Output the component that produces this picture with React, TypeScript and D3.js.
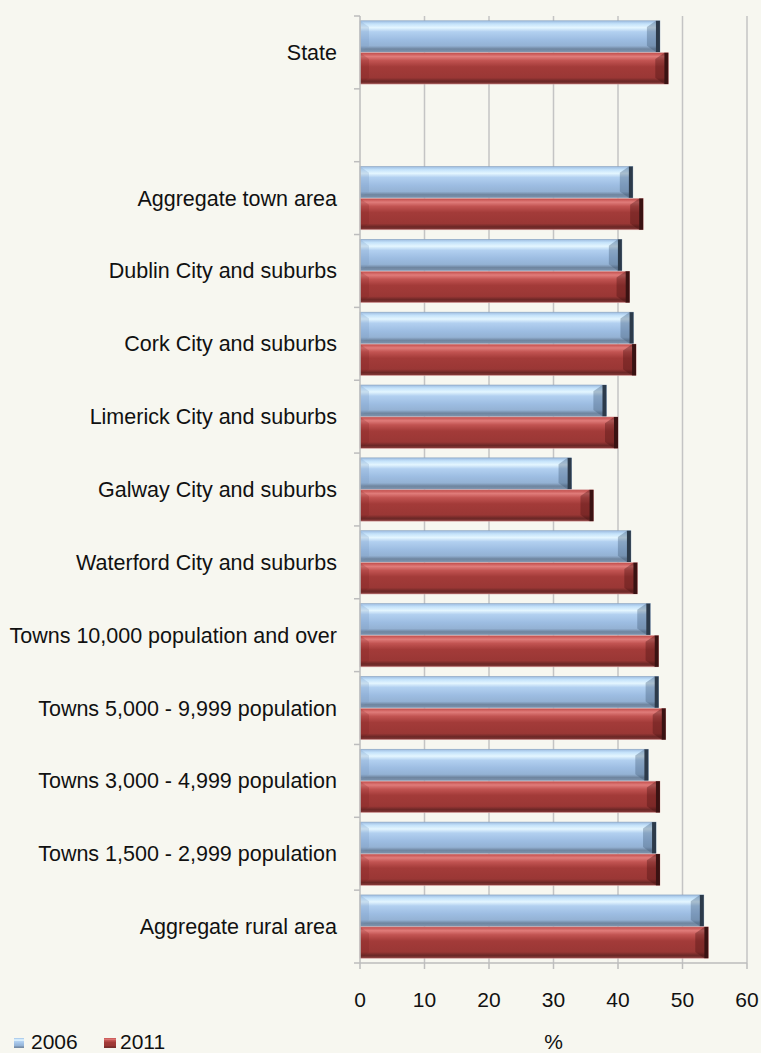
import React from "react";
import * as d3 from "d3";

const categories = [
  "State",
  " ",
  "Aggregate town area",
  "Dublin City and suburbs",
  "Cork City and suburbs",
  "Limerick City and suburbs",
  "Galway City and suburbs",
  "Waterford City and suburbs",
  "Towns 10,000 population and over",
  "Towns 5,000 - 9,999 population",
  "Towns 3,000 - 4,999 population",
  "Towns 1,500 - 2,999 population",
  "Aggregate rural area",
];
const values2006: (number | null)[] = [46.5, null, 42.3, 40.6, 42.4, 38.2, 32.8, 42.0, 45.0, 46.3, 44.7, 45.9, 53.3];
const values2011: (number | null)[] = [47.8, null, 43.9, 41.8, 42.8, 40.0, 36.2, 43.0, 46.3, 47.4, 46.5, 46.5, 54.0];
const seriesNames = ["2006", "2011"];
const xTicks = [0, 10, 20, 30, 40, 50, 60];

const W = 761;
const H = 1053;
const M = { left: 360, right: 747, top: 16, bottom: 963 };
const FONT = "'Liberation Sans', Arial, sans-serif";

const x = d3.scaleLinear().domain([0, 60]).range([M.left, M.right]);
const y = d3.scaleBand<string>().domain(categories).range([M.top, M.bottom]).paddingInner(0).paddingOuter(0);
const sub = d3.scaleBand<string>().domain(seriesNames).range([0, y.bandwidth()]).paddingInner(0.02).paddingOuter(0.15);

const palette: Record<string, { grad: string; cap: string; bevelL: string; bevelR: string; stroke: string }> = {
  "2006": { grad: "gBlue", cap: "#2c3a4a", bevelL: "rgba(120,150,190,0.25)", bevelR: "rgba(60,85,115,0.35)", stroke: "#8aa3bf" },
  "2011": { grad: "gRed", cap: "#3a1212", bevelL: "rgba(120,30,30,0.2)", bevelR: "rgba(70,15,15,0.35)", stroke: "#d8a0a0" },
};

function Bar({ v, s, cat }: { v: number; s: string; cat: string }) {
  const x0 = x(0);
  const x1 = x(v);
  const y0 = (y(cat) as number) + (sub(s) as number);
  const h = sub.bandwidth();
  const y1 = y0 + h;
  const p = palette[s];
  const bv = 9;
  const cap = 4;
  return (
    <g>
      <rect x={x0} y={y0} width={x1 - x0} height={h} fill={`url(#${p.grad})`} stroke={p.stroke} strokeWidth={0.6} />
      <polygon points={`${x0},${y0} ${x0 + bv},${y0 + bv * 0.7} ${x0 + bv},${y1 - bv * 0.7} ${x0},${y1}`} fill={p.bevelL} />
      <polygon points={`${x1 - cap},${y0} ${x1 - cap - bv},${y0 + bv * 0.7} ${x1 - cap - bv},${y1 - bv * 0.7} ${x1 - cap},${y1}`} fill={p.bevelR} />
      <rect x={x1 - cap} y={y0} width={cap} height={h} fill={p.cap} />
    </g>
  );
}

export default function App() {
  return (
    <svg width={W} height={H} style={{ position: "absolute", left: 0, top: 0, background: "#f7f7f0" }} fontFamily={FONT}>
      <defs>
        <linearGradient id="gBlue" x1="0" y1="0" x2="0" y2="1">
          <stop offset="0%" stopColor="#9cbbe0" />
          <stop offset="10%" stopColor="#c4e2fa" />
          <stop offset="22%" stopColor="#e4f6ff" />
          <stop offset="35%" stopColor="#b2d0f0" />
          <stop offset="60%" stopColor="#9dbde2" />
          <stop offset="80%" stopColor="#94b2d4" />
          <stop offset="90%" stopColor="#6f859f" />
          <stop offset="100%" stopColor="#7d93ad" />
        </linearGradient>
        <linearGradient id="gRed" x1="0" y1="0" x2="0" y2="1">
          <stop offset="0%" stopColor="#c04a48" />
          <stop offset="12%" stopColor="#e07c7a" />
          <stop offset="25%" stopColor="#c25452" />
          <stop offset="45%" stopColor="#a33b39" />
          <stop offset="80%" stopColor="#9a3735" />
          <stop offset="91%" stopColor="#6a2726" />
          <stop offset="100%" stopColor="#8a3c3b" />
        </linearGradient>
      </defs>
      <rect x={0} y={0} width={W} height={H} fill="#f7f7f0" />
      {xTicks.slice(1).map((t) => (
        <line key={t} x1={x(t)} x2={x(t)} y1={M.top} y2={M.bottom} stroke="#c4c4c4" strokeWidth={1.5} />
      ))}
      {categories.map((c, i) => (
        <g key={c}>
          {values2006[i] != null && <Bar v={values2006[i] as number} s="2006" cat={c} />}
          {values2011[i] != null && <Bar v={values2011[i] as number} s="2011" cat={c} />}
        </g>
      ))}
      <line x1={M.left} x2={M.left} y1={M.top} y2={M.bottom} stroke="#bdbdbd" strokeWidth={1.5} />
      <line x1={M.left} x2={M.right} y1={M.bottom} y2={M.bottom} stroke="#bdbdbd" strokeWidth={1.5} />
      {categories.map((c) => (
        <line key={"t" + c} x1={M.left - 6} x2={M.left} y1={y(c) as number} y2={y(c) as number} stroke="#bdbdbd" strokeWidth={1.5} />
      ))}
      <line x1={M.left - 6} x2={M.left} y1={M.bottom} y2={M.bottom} stroke="#bdbdbd" strokeWidth={1.5} />
      {xTicks.map((t) => (
        <line key={"xt" + t} x1={x(t)} x2={x(t)} y1={M.bottom} y2={M.bottom + 6} stroke="#bdbdbd" strokeWidth={1.5} />
      ))}
      {categories.map((c) => (
        <text key={"l" + c} x={337} y={(y(c) as number) + y.bandwidth() / 2} dy="0.35em" textAnchor="end" fontSize={21.5} fill="#111">
          {c.trim()}
        </text>
      ))}
      {xTicks.map((t) => (
        <text key={"xl" + t} x={x(t)} y={1007} textAnchor="middle" fontSize={21} fill="#111">
          {t}
        </text>
      ))}
      <text x={(M.left + M.right) / 2} y={1049} textAnchor="middle" fontSize={21} fill="#111">%</text>
      <rect x={14} y={1038} width={10} height={10} fill="url(#gBlue)" />
      <text x={31} y={1049} fontSize={21} fill="#111">2006</text>
      <rect x={104} y={1038} width={12} height={10} fill="url(#gRed)" />
      <text x={120} y={1049} fontSize={21} fill="#111">2011</text>
    </svg>
  );
}
